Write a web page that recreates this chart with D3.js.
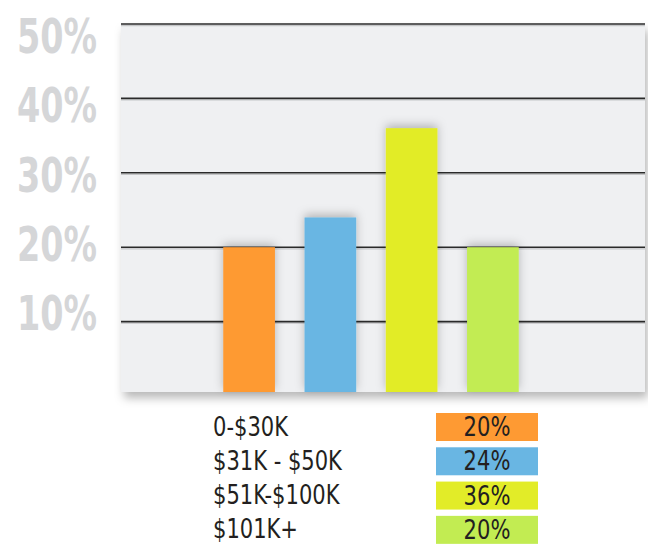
<!DOCTYPE html>
<html>
<head>
<meta charset="utf-8">
<script src="https://cdnjs.cloudflare.com/ajax/libs/d3/7.8.5/d3.min.js"></script>
<style>
  body { margin: 0; background: #fff; }
  svg { display: block; }
  text { font-family: "DejaVu Sans Condensed", "Liberation Sans Narrow", sans-serif; }
</style>
</head>
<body>
<div id="chart"></div>
<script>
// data
var categories = ["0-$30K", "$31K - $50K", "$51K-$100K", "$101K+"];
var values = [20, 24, 36, 20];
var colors = ["#fe9a33", "#69b6e3", "#e2ec28", "#c2ec52"];
var yTicks = [10, 20, 30, 40, 50];
var yTickLabels = ["10%", "20%", "30%", "40%", "50%"];

var width = 648, height = 546;

var svg = d3.select("#chart").append("svg")
    .attr("width", width)
    .attr("height", height);

var defs = svg.append("defs");
var panelShadow = defs.append("filter").attr("id", "panelShadow")
    .attr("x", "-5%").attr("y", "-5%").attr("width", "115%").attr("height", "120%");
panelShadow.append("feDropShadow")
    .attr("dx", 3).attr("dy", 6).attr("stdDeviation", 5)
    .attr("flood-color", "#000").attr("flood-opacity", 0.28);

var barShadow = defs.append("filter").attr("id", "barShadow")
    .attr("x", "-50%").attr("y", "-30%").attr("width", "200%").attr("height", "160%");
barShadow.append("feDropShadow")
    .attr("dx", 0).attr("dy", -3).attr("stdDeviation", 5)
    .attr("flood-color", "#000").attr("flood-opacity", 0.25);

// condense text a bit, the original uses a narrow face
function squeeze(sel, k) {
    sel.each(function() {
        var w = this.getComputedTextLength();
        d3.select(this)
            .attr("textLength", w * k)
            .attr("lengthAdjust", "spacingAndGlyphs");
    });
}

// plot area
var panel = {left: 121, right: 645, top: 24, bottom: 392};

var y = d3.scaleLinear().domain([0, 50]).range([396, 24]);
// tick labels sit on their own spacing in the original
var yLabel = d3.scaleLinear().domain([10, 50]).range([330, 53]);

var x = d3.scaleBand()
    .domain(categories)
    .range([207, 535])
    .paddingInner(0.364)
    .paddingOuter(0.2);

var plot = svg.append("g");

plot.append("rect")
    .attr("x", panel.left)
    .attr("y", panel.top)
    .attr("width", panel.right - panel.left)
    .attr("height", panel.bottom - panel.top)
    .attr("fill", "#eff0f2")
    .attr("filter", "url(#panelShadow)");

// grid lines
var grid = plot.append("g");
grid.selectAll(".hl")
    .data(yTicks)
    .enter().append("line")
    .attr("x1", panel.left).attr("x2", panel.right)
    .attr("y1", function(d) { return y(d) + 1.6; })
    .attr("y2", function(d) { return y(d) + 1.6; })
    .attr("stroke", "#c4c5c7")
    .attr("stroke-width", 1.2);
grid.selectAll(".gl")
    .data(yTicks)
    .enter().append("line")
    .attr("x1", panel.left).attr("x2", panel.right)
    .attr("y1", function(d) { return y(d); })
    .attr("y2", function(d) { return y(d); })
    .attr("stroke", "#2a2a2a")
    .attr("stroke-width", 1.6);

// bars
plot.selectAll(".bar")
    .data(values)
    .enter().append("rect")
    .attr("class", "bar")
    .attr("x", function(d, i) { return x(categories[i]); })
    .attr("width", x.bandwidth())
    .attr("y", function(d) { return y(d); })
    .attr("height", function(d) { return panel.bottom - y(d); })
    .attr("fill", function(d, i) { return colors[i]; })
    .attr("filter", "url(#barShadow)");

// y tick labels
svg.selectAll(".ylab")
    .data(yTicks)
    .enter().append("text")
    .attr("x", 97)
    .attr("y", function(d) { return yLabel(d); })
    .attr("text-anchor", "end")
    .attr("fill", "#d5d6d8")
    .style("font-size", "48px")
    .style("font-weight", "bold")
    .text(function(d, i) { return yTickLabels[i]; })
    .attr("textLength", 80)
    .attr("lengthAdjust", "spacingAndGlyphs");

// legend table
var rowY = d3.scaleBand().domain(categories).range([410, 542]).paddingInner(0.15);

var legend = svg.append("g");
var row = legend.selectAll(".row")
    .data(categories)
    .enter().append("g")
    .attr("transform", function(d) { return "translate(0," + rowY(d) + ")"; });

row.append("rect")
    .attr("x", 436)
    .attr("y", 3)
    .attr("width", 102)
    .attr("height", 28)
    .attr("fill", function(d, i) { return colors[i]; });

row.append("text")
    .attr("x", 213)
    .attr("y", 25.5)
    .attr("fill", "#231f20")
    .style("font-size", "26px")
    .text(function(d) { return d; })
    .call(squeeze, 0.9);

row.append("text")
    .attr("x", 487)
    .attr("y", 26)
    .attr("text-anchor", "middle")
    .attr("fill", "#231f20")
    .style("font-size", "26px")
    .text(function(d, i) { return values[i] + "%"; })
    .call(squeeze, 0.9);
</script>
</body>
</html>
